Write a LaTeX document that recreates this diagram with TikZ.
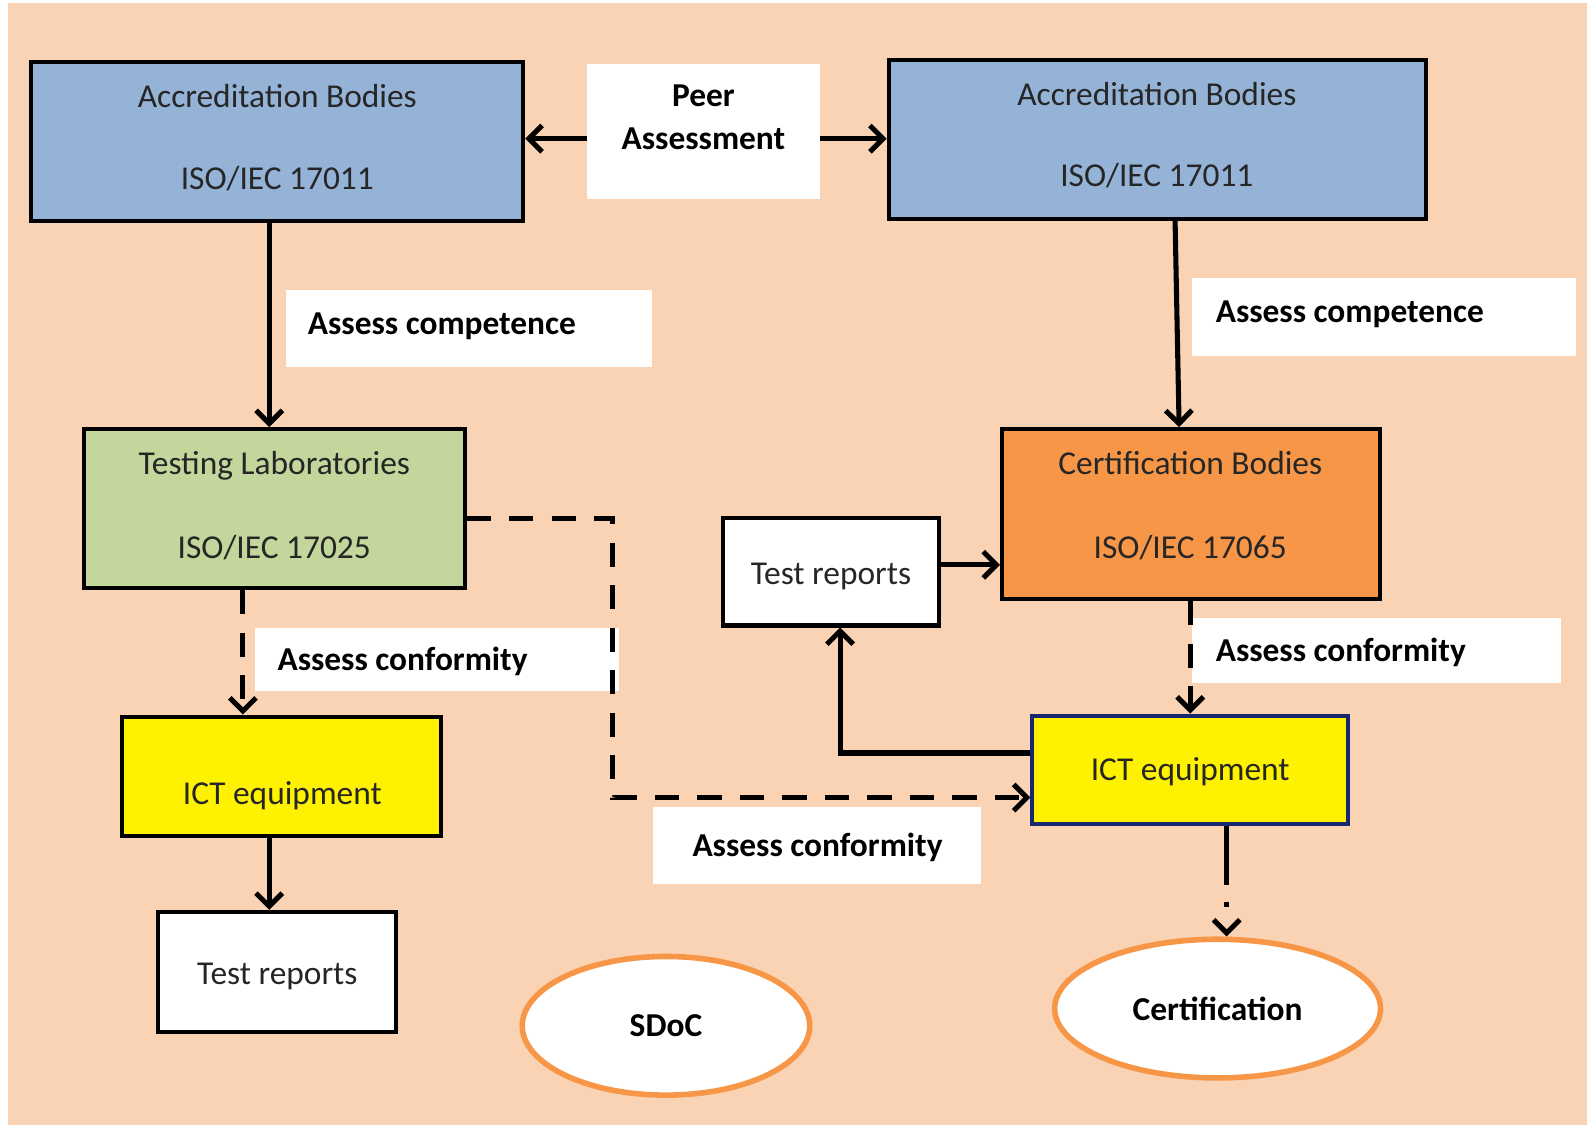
\documentclass[tikz,border=0pt]{standalone}
\usepackage{fontspec}
\setmainfont{Carlito}
\usetikzlibrary{arrows.meta,shapes.geometric}
\definecolor{peach}{RGB}{250,211,180}
\definecolor{abblue}{RGB}{149,179,215}
\definecolor{tlgreen}{RGB}{195,214,155}
\definecolor{cborange}{RGB}{247,150,70}
\definecolor{navy}{RGB}{25,40,110}
\definecolor{txtgray}{RGB}{38,38,38}
\tikzset{
  box/.style={draw=black, line width=4pt, inner sep=0pt, rectangle},
  lbl/.style={fill=white, draw=none, inner sep=0pt, rectangle},
  oval/.style={ellipse, draw=cborange, line width=5.5pt, fill=white, inner sep=0pt},
  reg/.style={font=\fontsize{33}{40}\selectfont, text=txtgray, inner sep=0pt, anchor=base},
  bld/.style={font=\fontsize{33}{40}\selectfont\bfseries, text=black, inner sep=0pt, anchor=base},
  arr/.style={line width=5pt, -{Straight Barb[length=13pt,width=26pt]}},
  dsh/.style={arr, dash pattern=on 24pt off 18pt},
  dshdot/.style={arr, dash pattern=on 58pt off 17pt on 5pt off 40pt}
}
\begin{document}
\begin{tikzpicture}[x=1pt,y=-1pt]
\useasboundingbox (0,0) rectangle (1568,1111);
\fill[peach] (8,3) rectangle (1620,1150);

% label boxes
\node[lbl, minimum width=230pt, minimum height=134pt] (peer) at (695,130) {};
\node[lbl, minimum width=361pt, minimum height=76pt] (lblc1) at (463.5,325) {};
\node[lbl, minimum width=379pt, minimum height=77pt] (lblc2) at (1367.5,313.5) {};
\node[lbl, minimum width=360pt, minimum height=63pt] (lblf1) at (432,651.5) {};
\node[lbl, minimum width=364pt, minimum height=64pt] (lblf2) at (1360,643) {};
\node[lbl, minimum width=324pt, minimum height=76pt] (lblf3) at (807,835) {};

% boxes
\node[box, fill=abblue, minimum width=486pt, minimum height=157pt] (ab1) at (274,139.5) {};
\node[box, fill=abblue, minimum width=531pt, minimum height=157pt] (ab2) at (1143.5,137.5) {};
\node[box, fill=tlgreen, minimum width=376pt, minimum height=157pt] (tl) at (271,502.5) {};
\node[box, fill=cborange, minimum width=373pt, minimum height=168pt] (cb) at (1176.5,508) {};
\node[box, fill=white, minimum width=214pt, minimum height=106pt] (tr2) at (821,565) {};
\node[box, draw=navy, fill=yellow, minimum width=312pt, minimum height=107pt] (ict2) at (1176,760.5) {};
\node[box, fill=yellow, minimum width=315pt, minimum height=118pt] (ict1) at (278.5,767) {};
\node[box, fill=white, minimum width=235pt, minimum height=119pt] (tr1) at (273.5,960.5) {};
\node[oval, minimum width=284pt, minimum height=137pt] (sdoc) at (658,1013.5) {};
\node[oval, minimum width=322pt, minimum height=137pt] (cert) at (1203,996.5) {};

% texts
\node[reg] (ab1a) at (274,106.5) {Accreditation Bodies};
\node[reg] (ab1b) at (274,187.5) {ISO/IEC 17011};
\node[reg] (ab2a) at (1143,104.5) {Accreditation Bodies};
\node[reg] (ab2b) at (1143,184.5) {ISO/IEC 17011};
\node[bld] (peera) at (695,105.5) {Peer};
\node[bld] (peerb) at (695,147.5) {Assessment};
\node[reg] (tla) at (271,468.5) {Testing Laboratories};
\node[reg] (tlb) at (271,551.5) {ISO/IEC 17025};
\node[reg] (cba) at (1176,468.5) {Certification Bodies};
\node[reg] (cbb) at (1176,551.5) {ISO/IEC 17065};
\node[reg] (tr2t) at (821,577.5) {Test reports};
\node[reg] (ict2t) at (1176,771.5) {ICT equipment};
\node[reg] (ict1t) at (279,794.5) {ICT equipment};
\node[reg] (tr1t) at (274,972.5) {Test reports};
\node[bld] (sdoct) at (658,1024.5) {SDoC};
\node[bld] (certt) at (1203,1008.5) {Certification};
\node[bld, anchor=base west] (lc1) at (304,330.5) {Assess competence};
\node[bld, anchor=base west] (lc2) at (1201,318.5) {Assess competence};
\node[bld, anchor=base west] (lf1) at (274,662.5) {Assess conformity};
\node[bld, anchor=base west] (lf2) at (1201,653.5) {Assess conformity};
\node[bld, anchor=base west] (lf3) at (684,846.5) {Assess conformity};

% connectors
\draw[arr] (peer.west |- 0,137) -- (ab1.east |- 0,137);
\draw[arr] (peer.east |- 0,137) -- (ab2.west |- 0,137);
\draw[arr] (ab1.south -| 266,0) -- (tl.north -| 266,0);
\draw[arr] (ab2.south -| 1161,0) -- (cb.north -| 1165,0);
\draw[arr] (tr2.east |- 0,558) -- (cb.west |- 0,558);
\draw[arr] (ict2.west |- 0,744) -| (tr2.south -| 830,0);
\draw[dsh] (cb.south -| 1176,0) -- (ict2.north -| 1176,0);
\draw[dsh] (tl.east |- 0,512) -| (605,788) -- (ict2.west |- 0,788);
\draw[dsh] (tl.south -| 240,0) -- (ict1.north -| 240,0);
\draw[arr] (ict1.south -| 266,0) -- (tr1.north -| 266,0);
\draw[dshdot] (ict2.south -| 1212,0) -- (cert.north -| 1212,0);
\end{tikzpicture}
\end{document}
